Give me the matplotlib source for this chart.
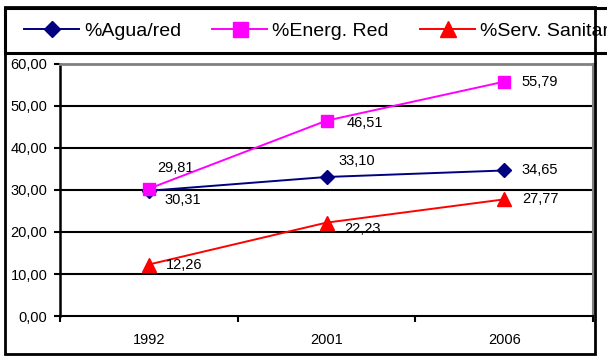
import matplotlib.pyplot as plt
from matplotlib.patches import Rectangle
from matplotlib.ticker import FixedLocator

plt.rcParams["font.family"] = ["Liberation Sans", "DejaVu Sans"]

years = ["1992", "2001", "2006"]
agua_red = [29.81, 33.10, 34.65]
energ_red = [30.31, 46.51, 55.79]
serv_sanit = [12.26, 22.23, 27.77]

series = [
	("%Agua/red", agua_red, "#000080", "D", 7),
	("%Energ. Red", energ_red, "#FF00FF", "s", 9),
	("%Serv. Sanitario", serv_sanit, "#FF0000", "^", 10),
]
# label offsets in pixels, per series, per point
label_offsets = [
	[(27, 23), (30, 16), (36, 0)],
	[(34, -11), (38, -2), (36, 0)],
	[(35, 0), (36, -6), (36, 0)],
]


def fmt(v):
	return f"{v:.2f}".replace(".", ",")


W, H = 607, 357
fig = plt.figure(figsize=(W / 100, H / 100), dpi=100)
ax = fig.add_axes([60 / W, 1 - 316 / H, 533 / W, 252 / H])

x = list(range(len(years)))
handles = []
for (name, vals, color, marker, ms), offs in zip(series, label_offsets):
	(h,) = ax.plot(x, vals, color=color, lw=1.4, marker=marker, markersize=ms,
		markeredgecolor=color, markerfacecolor=color, label=name, zorder=3)
	handles.append(h)
	for xi, v, (dx, dy) in zip(x, vals, offs):
		ax.annotate(fmt(v), (xi, v), xytext=(dx, dy), textcoords="offset pixels",
			ha="center", va="center", fontsize=10.5, color="black")

ax.set_xlim(-0.5, 2.5)
ax.set_ylim(0, 60)
ax.set_yticks(range(0, 61, 10))
ax.set_yticklabels([fmt(v) for v in range(0, 61, 10)], fontsize=10.5)
ax.set_xticks(x)
ax.set_xticklabels(years, fontsize=10.5)
ax.xaxis.set_minor_locator(FixedLocator([-0.5, 0.5, 1.5, 2.5]))
ax.tick_params(axis="x", which="major", length=0, pad=12)
ax.tick_params(axis="x", which="minor", length=4, width=1.5, direction="out")
ax.tick_params(axis="y", length=4, width=1.5, direction="out", pad=5)

for yv in range(10, 60, 10):
	ax.axhline(yv, color="black", lw=1.5, zorder=1)
ax.spines["left"].set_linewidth(1.8)
ax.spines["bottom"].set_linewidth(1.5)
ax.spines["top"].set_color("#808080")
ax.spines["top"].set_linewidth(2)
ax.spines["right"].set_color("#808080")
ax.spines["right"].set_linewidth(1.5)

# legend box (runs past the right edge, as in the original) and outer chart border
fig.patches.append(Rectangle((5 / W, 1 - 53 / H), 700 / W, 45 / H,
	transform=fig.transFigure, fill=True, facecolor="white", edgecolor="black", lw=2.2))
border = Rectangle((5 / W, 1 - 354 / H), 590 / W, 347 / H,
	transform=fig.transFigure, fill=False, edgecolor="black", lw=2, zorder=6)
fig.patches.append(border)

fig.legend(handles=handles, loc="center left", bbox_to_anchor=(24 / W, 1 - 31 / H),
	ncol=3, frameon=False, fontsize=14, handlelength=2.83, handletextpad=0.26,
	columnspacing=1.6, borderaxespad=0, borderpad=0, markerscale=1.2)

fig.savefig("out.png", dpi=100)
